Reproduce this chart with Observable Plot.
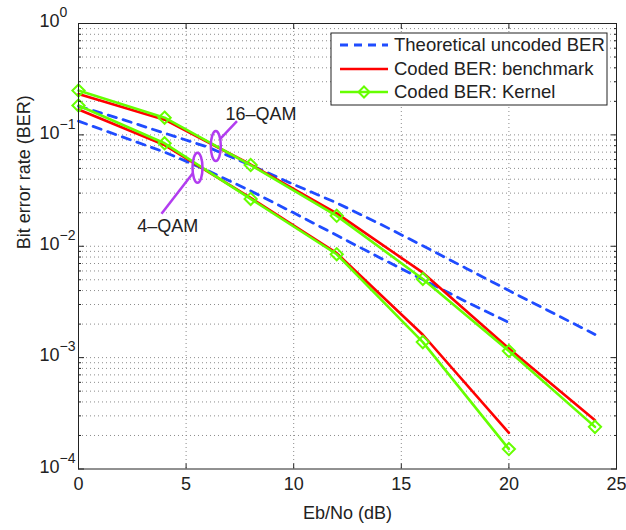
<!DOCTYPE html>
<html><head><meta charset="utf-8">
<script src="https://cdn.jsdelivr.net/npm/d3@7"></script>
<script src="https://cdn.jsdelivr.net/npm/@observablehq/plot@0.6"></script>
<style>
html,body{margin:0;padding:0;background:#fff;}
#chart{width:626px;height:530px;overflow:hidden;}
</style></head><body><div id="chart"></div>
<script>
// ---- data ----
const snrTheory16 = [0, 2, 4, 6, 8, 10, 12, 14, 16, 18, 20, 22, 24];
const berTheory16 = [0.1808, 0.1383, 0.1037, 0.0777, 0.0536, 0.03587, 0.02451, 0.01590, 0.01010, 0.006355, 0.003997, 0.002541, 0.001615];
const snrTheory4 = [0, 2, 4, 6, 8, 10, 12, 14, 16, 18, 20];
const berTheory4 = [0.1327, 0.0965, 0.0701, 0.0479, 0.03137, 0.01995, 0.01254, 0.00789, 0.00502, 0.003188, 0.002067];
const snrCoded16 = [0, 4, 8, 12, 16, 20, 24];
const berBench16 = [0.2327, 0.1369, 0.05418, 0.01974, 0.005793, 0.001210, 0.0002745];
const berKernel16 = [0.2498, 0.1427, 0.0536, 0.01875, 0.005088, 0.001145, 0.000239];
const snrCoded4 = [0, 4, 8, 12, 16, 20];
const berBench4 = [0.1689, 0.0810, 0.02716, 0.00866, 0.001605, 0.0002113];
const berKernel4 = [0.1835, 0.0840, 0.02661, 0.00848, 0.001378, 0.0001510];

const xTicks = [0, 5, 10, 15, 20, 25];
const xGrid = [5, 10, 15, 20];
const yMajor = [1e-4, 1e-3, 1e-2, 1e-1, 1];
const yMajorLabels = ["10^−4", "10^−3", "10^−2", "10^−1", "10^0"];
const minorMult = [2, 3, 4, 5, 6, 7, 8, 9];

const legendLabels = ["Theoretical uncoded BER", "Coded BER: benchmark", "Coded BER: Kernel"];

const annotLabels = ["16–QAM", "4–QAM"];
const annotTextX = [6.83, 2.73];
const annotTextY = [0.1518, 0.01525];
const ellipseX = [6.38, 5.53];
const ellipseY = [0.0793, 0.0507];
const leaderX1 = [6.575, 5.32];
const leaderY1 = [0.0916, 0.0455];
const leaderX2 = [7.365, 3.857];
const leaderY2 = [0.1327, 0.01954];

// ---- styles ----
const FONT = "'Liberation Sans', Arial, Helvetica, sans-serif";
const blue = "#1f4cff", red = "#ff0000", green = "#66ff00", purple = "#b23cf0", ink = "#222222";
const gridStyle = {stroke: "#8c8c8c", strokeOpacity: 1, strokeWidth: 1, strokeDasharray: "1,3"};

// ---- tables ----
function table(name, xs, ys) { return xs.map((x, i) => ({series: name, snr: x, ber: ys[i]})); }
const theory = [...table("t16", snrTheory16, berTheory16), ...table("t4", snrTheory4, berTheory4)];
const bench = [...table("b16", snrCoded16, berBench16), ...table("b4", snrCoded4, berBench4)];
const kernel = [...table("k16", snrCoded16, berKernel16), ...table("k4", snrCoded4, berKernel4)];
const yMinor = [1e-4, 1e-3, 1e-2, 1e-1].flatMap(d => minorMult.map(m => d * m));
const annots = annotLabels.map((t, i) => ({t, x: annotTextX[i], y: annotTextY[i]}));
const ellipses = ellipseX.map((x, i) => ({x, y: ellipseY[i]}));
const leaders = leaderX1.map((x1, i) => ({x1, y1: leaderY1[i], x2: leaderX2[i], y2: leaderY2[i]}));

const ellipseSymbol = {
  draw(ctx) {
    const rx = 5, ry = 15, k = 0.5523;
    ctx.moveTo(rx, 0);
    ctx.bezierCurveTo(rx, ry * k, rx * k, ry, 0, ry);
    ctx.bezierCurveTo(-rx * k, ry, -rx, ry * k, -rx, 0);
    ctx.bezierCurveTo(-rx, -ry * k, -rx * k, -ry, 0, -ry);
    ctx.bezierCurveTo(rx * k, -ry, rx, -ry * k, rx, 0);
    ctx.closePath();
  }
};

const plot = Plot.plot({
  width: 626, height: 530,
  marginLeft: 78, marginRight: 10, marginTop: 23, marginBottom: 61.5,
  x: {domain: [0, 25]},
  y: {type: "log", domain: [1e-4, 1]},
  style: {fontFamily: FONT, fontSize: "18px", color: ink, background: "white", overflow: "visible"},
  marks: [
    Plot.gridX({ticks: xGrid, ...gridStyle}),
    Plot.gridY({ticks: [...yMinor, 1e-3, 1e-2, 1e-1], ...gridStyle}),
    Plot.line(theory, {x: "snr", y: "ber", z: "series", stroke: blue, strokeWidth: 2.8, strokeDasharray: "8.5,7"}),
    Plot.line(bench, {x: "snr", y: "ber", z: "series", stroke: red, strokeWidth: 2.6}),
    Plot.line(kernel, {x: "snr", y: "ber", z: "series", stroke: green, strokeWidth: 2.6}),
    Plot.dot(kernel, {x: "snr", y: "ber", symbol: "diamond2", r: 5.5, stroke: green, strokeWidth: 2, fill: "none"}),
    Plot.dot(ellipses, {x: "x", y: "y", symbol: ellipseSymbol, stroke: purple, strokeWidth: 2.5, fill: "none"}),
    Plot.link(leaders, {x1: "x1", y1: "y1", x2: "x2", y2: "y2", stroke: purple, strokeWidth: 2.5}),
    Plot.text(annots, {x: "x", y: "y", text: "t", textAnchor: "start", fontSize: 18, fill: ink}),
    Plot.axisX({anchor: "bottom", ticks: xTicks, tickSize: -5, fill: "none", stroke: ink, label: null}),
    Plot.axisX({anchor: "top", ticks: xTicks, tickSize: -5, fill: "none", stroke: ink, label: null}),
    Plot.axisY({anchor: "left", ticks: yMajor, tickSize: -6, fill: "none", stroke: ink, label: null}),
    Plot.axisY({anchor: "left", ticks: yMinor, tickSize: -3, fill: "none", stroke: ink, label: null}),
    Plot.axisY({anchor: "right", ticks: yMajor, tickSize: -6, fill: "none", stroke: ink, label: null}),
    Plot.axisY({anchor: "right", ticks: yMinor, tickSize: -3, fill: "none", stroke: ink, label: null}),
    Plot.frame({stroke: ink, strokeWidth: 1}),
    Plot.text(xTicks, {x: d => d, text: d => String(d), frameAnchor: "bottom", dy: 21, fontSize: 18, fill: ink}),
    Plot.text(yMajor, {y: d => d, text: (d, i) => yMajorLabels[i], frameAnchor: "left", dx: -39, dy: -2, textAnchor: "start", fontSize: 18, fill: ink}),
    Plot.text(["Eb/No (dB)"], {text: d => d, frameAnchor: "bottom", dy: 50, fontSize: 18, fill: ink}),
    Plot.text(["Bit error rate (BER)"], {text: d => d, frameAnchor: "left", dx: -54, dy: 3, rotate: -90, fontSize: 18, fill: ink})
  ]
});

document.getElementById("chart").appendChild(plot);
const svg = d3.select(plot);

// superscript exponents on the log-axis labels
svg.selectAll("text").each(function () {
  const s = this.textContent;
  if (!/^10\^/.test(s)) return;
  const exp = s.split("^")[1];
  const t = d3.select(this);
  t.text(null);
  t.append("tspan").text("10");
  t.append("tspan").attr("dy", -10).attr("font-size", 14).text(exp);
});

// legend
const lg = svg.append("g").attr("font-family", FONT).attr("font-size", 18.5).attr("text-anchor", "start");
lg.append("rect").attr("x", 331).attr("y", 33).attr("width", 276).attr("height", 72)
  .attr("fill", "white").attr("stroke", ink).attr("stroke-width", 1);
const rowsY = [45, 69, 92];
const lgStroke = [blue, red, green];
const lgDash = ["8,6", null, null];
const lgWidth = [2.8, 2.6, 2.6];
legendLabels.forEach((label, i) => {
  const y = rowsY[i];
  lg.append("line").attr("x1", 340).attr("x2", 388).attr("y1", y).attr("y2", y)
    .attr("stroke", lgStroke[i]).attr("stroke-width", lgWidth[i]).attr("stroke-dasharray", lgDash[i]);
  if (i === 2) {
    const r = 5.5;
    lg.append("path").attr("d", `M364,${y - r}L${364 + r},${y}L364,${y + r}L${364 - r},${y}Z`)
      .attr("fill", "none").attr("stroke", green).attr("stroke-width", 2);
  }
  lg.append("text").attr("x", 394).attr("y", y).attr("dy", "0.35em").attr("text-anchor", "start").attr("fill", ink).text(label);
});
</script>
</body></html>
